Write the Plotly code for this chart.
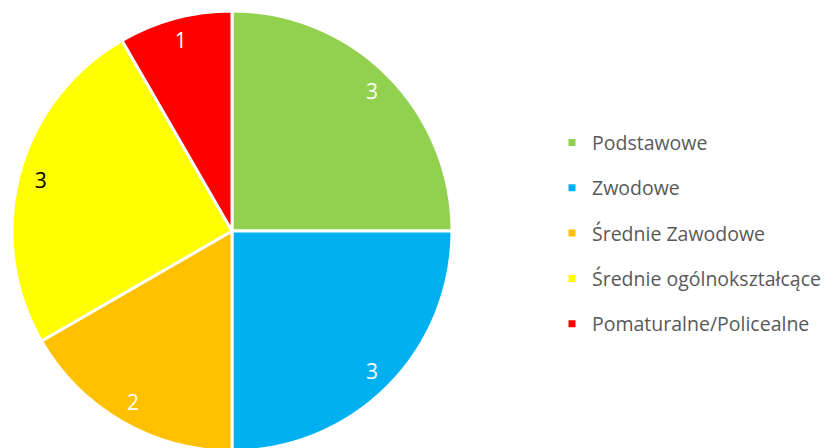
import plotly.graph_objects as go

categories = ["Podstawowe", "Zwodowe", "Średnie Zawodowe", "Średnie ogólnokształcące", "Pomaturalne/Policealne"]
values = [3, 3, 2, 3, 1]
colors = ["#92D050", "#00B0F0", "#FFC000", "#FFFF00", "#FF0000"]
label_colors = ["white", "white", "white", "black", "white"]

FONT = "Open Sans"
dom_x = [0, 448 / 837]

fig = go.Figure()
fig.add_trace(go.Pie(
    labels=categories, values=values, sort=False, direction="clockwise", rotation=0,
    marker=dict(colors=colors, line=dict(color="white", width=3)),
    textinfo="none", showlegend=False, hoverinfo="skip",
    domain=dict(x=dom_x, y=[0, 1]),
))
fig.add_trace(go.Pie(
    labels=categories, values=values, sort=False, direction="clockwise", rotation=0, hole=0.8,
    marker=dict(colors=["rgba(0,0,0,0)"] * 5, line=dict(width=0)),
    textinfo="value", textposition="inside", insidetextorientation="horizontal",
    textfont=dict(family=FONT, size=21, color=label_colors),
    showlegend=False, hoverinfo="skip",
    domain=dict(x=dom_x, y=[0, 1]),
))
for i, (c, col) in enumerate(zip(categories, colors)):
    fig.add_trace(go.Scatter(
        x=[None], y=[None], mode="markers", name=c,
        marker=dict(symbol="square", size=7, color=col),
        legendgroup=f"g{i}", showlegend=True,
    ))

fig.update_layout(
    width=837, height=448,
    margin=dict(l=0, r=0, t=3, b=5),
    paper_bgcolor="white", plot_bgcolor="white",
    xaxis=dict(visible=False), yaxis=dict(visible=False),
    legend=dict(
        x=544 / 837, y=0.495, xanchor="left", yanchor="middle",
        font=dict(family=FONT, size=19.5, color="#595959"),
        tracegroupgap=17, itemclick=False, itemdoubleclick=False,
    ),
)
fig.write_html("out.html")
